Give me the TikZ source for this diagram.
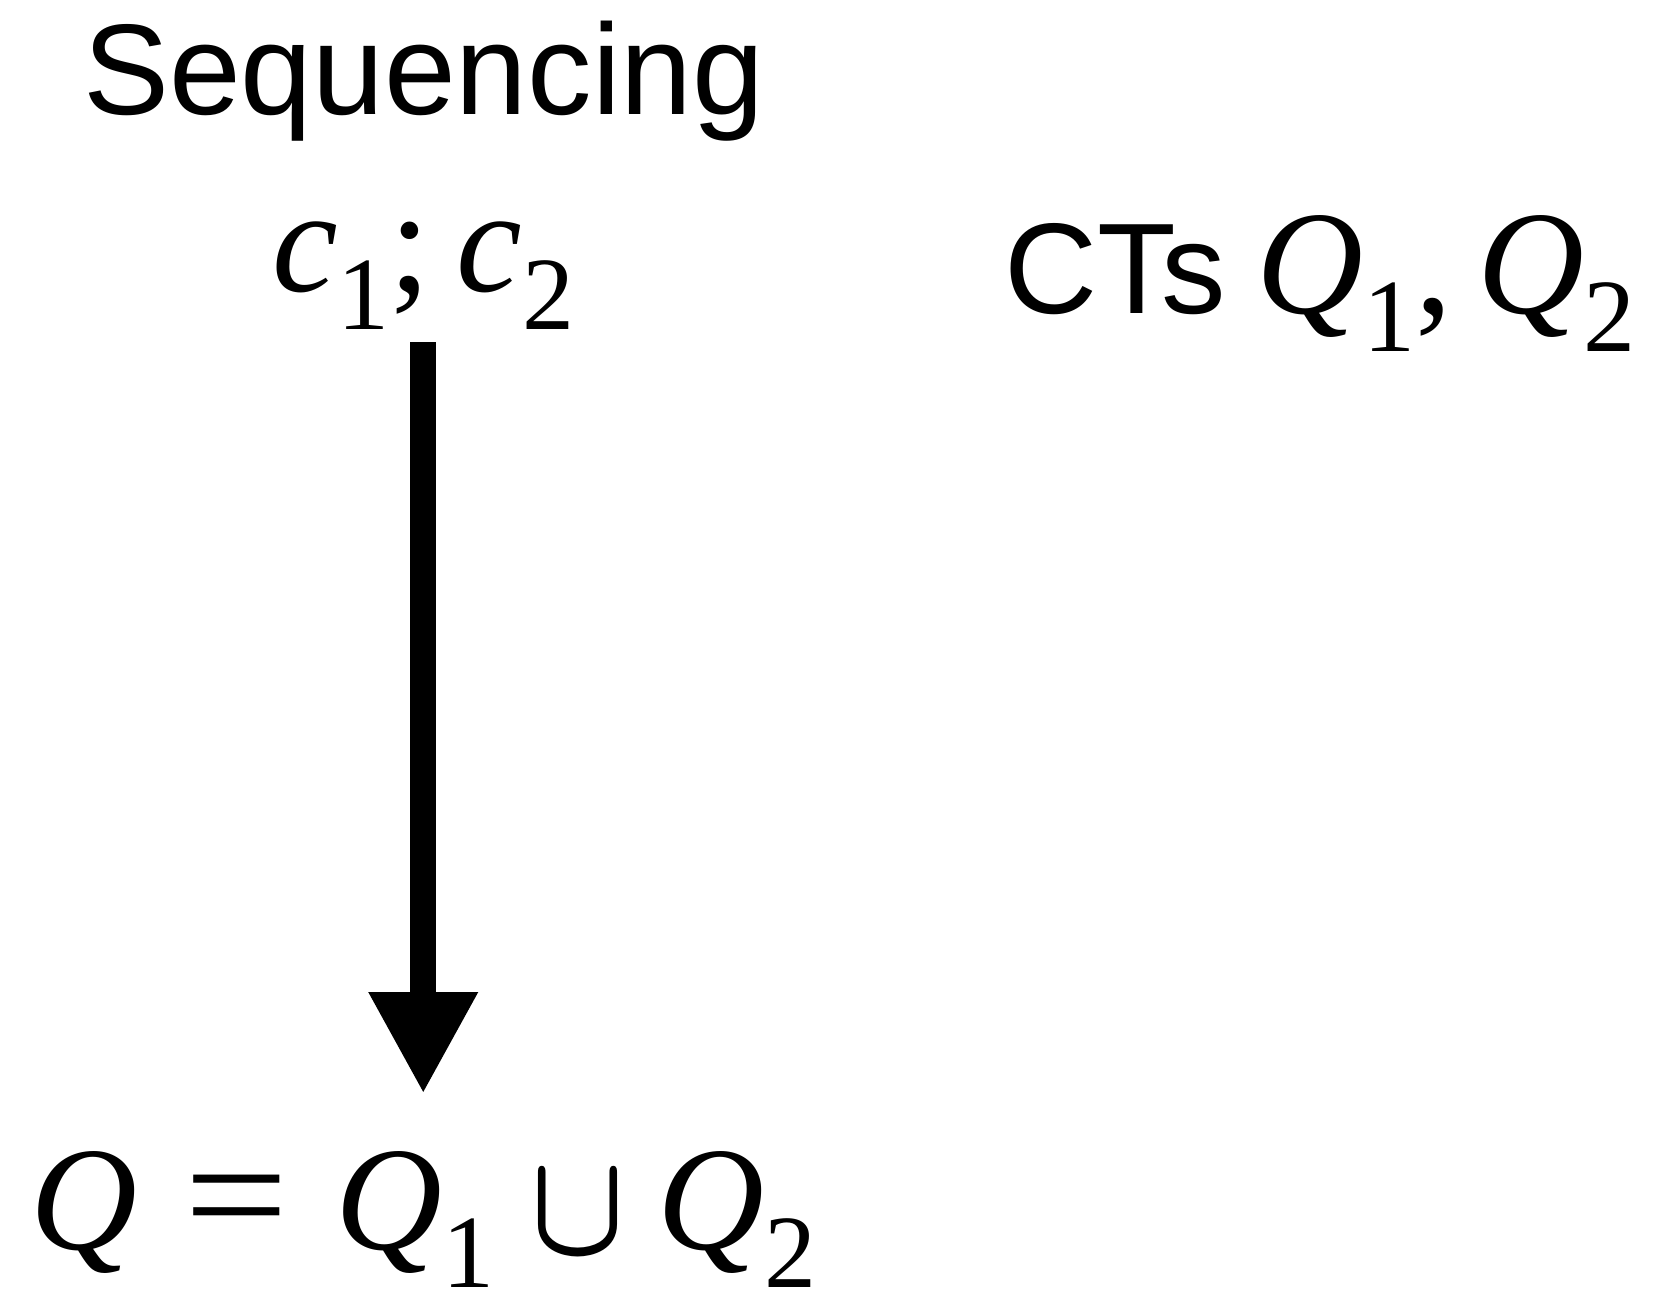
\documentclass[tikz,border=0pt]{standalone}
\usepackage{fontspec}
\usepackage{graphicx}
\usetikzlibrary{arrows.meta}
\newfontfamily\sansf{Liberation Sans}
\newfontfamily\serf{Liberation Serif}
\newcommand\mathbig{\fontsize{148}{160}\selectfont}
\newcommand\sansbig{\fontsize{129}{140}\selectfont}
\newcommand\subs[1]{\raisebox{-38pt}{\fontsize{104}{110}\selectfont\upshape #1}}
\newcommand\cupsym{\raisebox{-5pt}{\scalebox{12.4}[14.6]{\fontsize{10}{12}\selectfont\boldmath$\cup$}}}
\begin{document}
\begin{tikzpicture}[x=1pt,y=-1pt,
  txt/.style={inner sep=0pt, outer sep=0pt, anchor=base west},
  bigarrow/.style={line width=26pt, -{Triangle[length=102pt,width=102pt]}}]
\useasboundingbox (0,0) rectangle (1676,1295);
\node[txt] (title) at (83,115) {\sansf\sansbig Sequencing};
\node[txt] (seq) at (272,291) {\serf\mathbig\itshape c\subs{1}\upshape;\hspace{26pt}\itshape c\subs{2}};
\node[txt] (cts) at (1004,313) {\sansf\sansbig CTs\hspace{30pt}\serf\mathbig\itshape Q\subs{1}\upshape,\hspace{25pt}\itshape Q\subs{2}};
\node[txt] (res) at (30,1249) {\serf\mathbig\itshape Q\upshape\hspace{48pt}\scalebox{1.25}[1.1]{=}\hspace{46pt}\itshape Q\subs{1}\hspace{36pt}\cupsym\hspace{32pt}\itshape Q\subs{2}};
\draw[bigarrow, shorten <=13pt, shorten >=57pt] (seq.south) -- (seq.south |- res.north);
\end{tikzpicture}
\end{document}
